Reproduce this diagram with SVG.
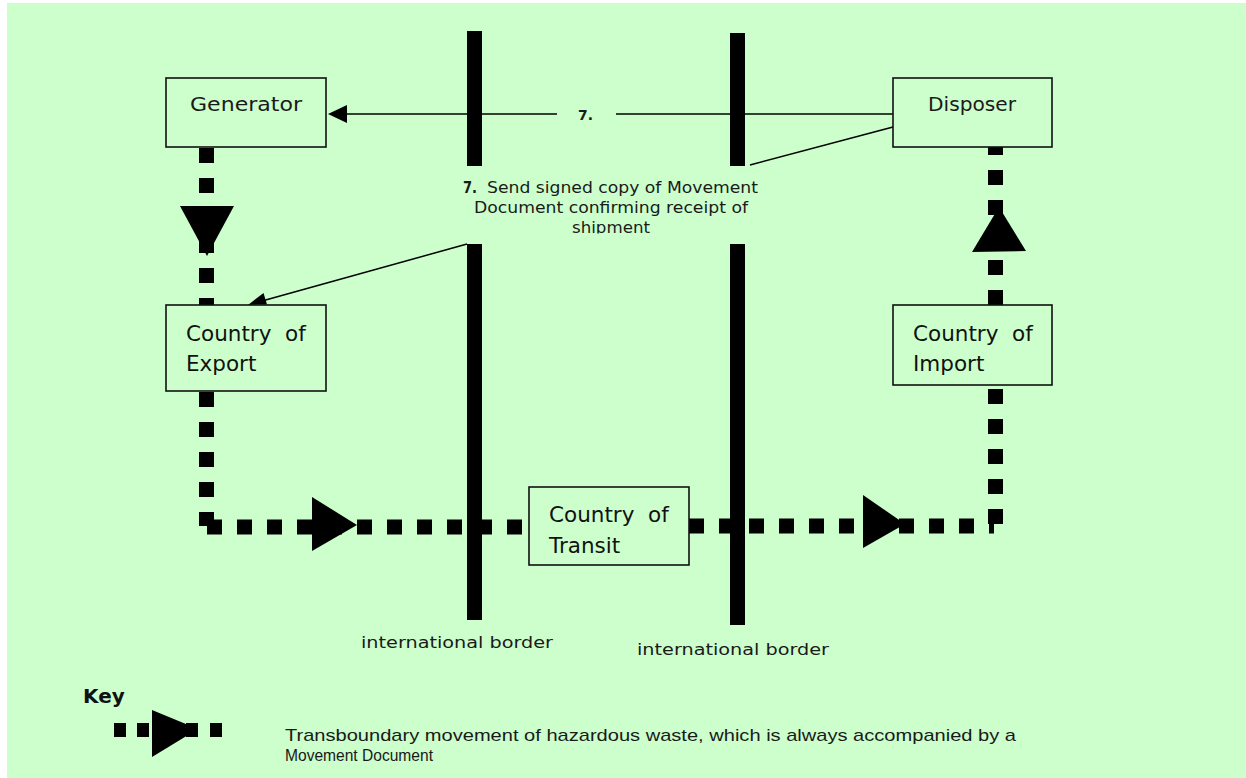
<svg xmlns="http://www.w3.org/2000/svg" width="1246" height="778" viewBox="0 0 1246 778">
  <style>
    .bg { fill: #ccffcc; }
    .box { fill: #ccffcc; stroke: #111; stroke-width: 1.6; }
    .bar { fill: #000; }
    .flow { fill: none; stroke: #000; stroke-width: 15; stroke-dasharray: 15 15; }
    .thin { fill: none; stroke: #000; stroke-width: 1.5; }
    .head { fill: #000; }
    .gothic { font-family: "DejaVu Sans", "Liberation Sans", sans-serif; fill: #1a1a1a; }
    .humanist { font-family: "DejaVu Sans", "Liberation Sans", sans-serif; font-size: 21.5px; fill: #111; }
    .narrow { font-family: "Liberation Sans", "DejaVu Sans", sans-serif; font-size: 17px; fill: #1a1a1a; }
  </style>
  <defs>
    <clipPath id="noteClip">
      <rect x="440" y="166" width="340" height="67.5"/>
    </clipPath>
  </defs>

  <!-- canvas -->
  <rect class="bg" x="7" y="3" width="1239" height="775"/>

  <!-- international borders -->
  <g id="border-left">
    <rect class="bar" x="467" y="31" width="15" height="135"/>
    <rect class="bar" x="467" y="244" width="15" height="376"/>
    <text class="gothic" x="361" y="648" font-size="16" textLength="192" lengthAdjust="spacingAndGlyphs">international border</text>
  </g>
  <g id="border-right">
    <rect class="bar" x="730" y="33" width="15" height="133"/>
    <rect class="bar" x="730" y="244" width="15" height="381"/>
    <text class="gothic" x="637" y="655" font-size="16" textLength="192" lengthAdjust="spacingAndGlyphs">international border</text>
  </g>

  <!-- connectors -->
  <g id="connectors">
    <!-- step 7: signed Movement Document back to the generator -->
    <line class="thin" x1="895" y1="114" x2="616" y2="114"/>
    <line class="thin" x1="557" y1="114" x2="346" y2="114"/>
    <polygon class="head" points="328,114 347,105 347,123"/>
    <text class="gothic" x="578" y="120" font-size="14" font-weight="bold" textLength="15" lengthAdjust="spacingAndGlyphs">7.</text>
    <line class="thin" x1="893" y1="127" x2="750" y2="165"/>
    <line class="thin" x1="467" y1="244" x2="262" y2="301"/>
    <polygon class="head" points="248,305 263.5,293 267,304.5"/>

    <!-- hazardous waste movement -->
    <line class="flow" x1="206.5" y1="148" x2="206.5" y2="305"/>
    <polygon class="head" points="180,206 234,206 207,256"/>
    <line class="flow" x1="206.5" y1="392" x2="206.5" y2="526"/>
    <line class="flow" x1="207" y1="527" x2="529" y2="527"/>
    <polygon class="head" points="312,497 312,551 357,525"/>
    <line class="flow" x1="689" y1="526" x2="994" y2="526"/>
    <polygon class="head" points="863,495 863,548 905,524"/>
    <line class="flow" x1="995.5" y1="524" x2="995.5" y2="385"/>
    <line class="flow" x1="995.5" y1="305" x2="995.5" y2="147"/>
    <polygon class="head" points="972,252 1026,251 999,207"/>
  </g>

  <!-- note for step 7 -->
  <g id="note-7">
    <rect class="bg" x="467" y="166" width="283" height="78"/>
    <g clip-path="url(#noteClip)">
      <text class="gothic" x="463" y="193" font-size="15" font-weight="bold" textLength="14" lengthAdjust="spacingAndGlyphs">7.</text>
      <text class="gothic" x="487" y="193" font-size="16" textLength="271" lengthAdjust="spacingAndGlyphs">Send signed copy of Movement</text>
      <text class="gothic" x="474" y="213" font-size="16" textLength="274" lengthAdjust="spacingAndGlyphs">Document confirming receipt of</text>
      <text class="gothic" x="572" y="233" font-size="16" textLength="78" lengthAdjust="spacingAndGlyphs">shipment</text>
    </g>
  </g>

  <!-- parties -->
  <g id="generator">
    <rect class="box" x="166" y="78" width="160" height="69"/>
    <text class="gothic" x="190" y="111" font-size="19" textLength="112" lengthAdjust="spacingAndGlyphs">Generator</text>
  </g>
  <g id="disposer">
    <rect class="box" x="893" y="78" width="159" height="69"/>
    <text class="gothic" x="928" y="111" font-size="19" textLength="88" lengthAdjust="spacingAndGlyphs">Disposer</text>
  </g>
  <g id="country-export">
    <rect class="box" x="166" y="305" width="160" height="86"/>
    <text class="humanist" x="186" y="341" xml:space="preserve">Country  of</text>
    <text class="humanist" x="186" y="371">Export</text>
  </g>
  <g id="country-transit">
    <rect class="box" x="529" y="487" width="160" height="78"/>
    <text class="humanist" x="549" y="522" xml:space="preserve">Country  of</text>
    <text class="humanist" x="549" y="553">Transit</text>
  </g>
  <g id="country-import">
    <rect class="box" x="893" y="305" width="159" height="80"/>
    <text class="humanist" x="913" y="341" xml:space="preserve">Country  of</text>
    <text class="humanist" x="913" y="371">Import</text>
  </g>

  <!-- key -->
  <g id="key">
    <text x="83" y="703" font-family="DejaVu Sans, Liberation Sans, sans-serif" font-size="20" font-weight="bold" fill="#111">Key</text>
    <rect class="head" x="114" y="723" width="12" height="14"/>
    <rect class="head" x="137" y="723" width="12" height="14"/>
    <rect class="head" x="186" y="723" width="12" height="14"/>
    <rect class="head" x="210" y="723" width="12" height="14"/>
    <polygon class="head" points="152,710 152,757 198,729"/>
    <text class="narrow" x="285" y="741" textLength="731" lengthAdjust="spacingAndGlyphs">Transboundary movement of hazardous waste, which is always accompanied by a</text>
    <text class="narrow" x="285" y="761" textLength="148" lengthAdjust="spacingAndGlyphs">Movement Document</text>
  </g>
</svg>
